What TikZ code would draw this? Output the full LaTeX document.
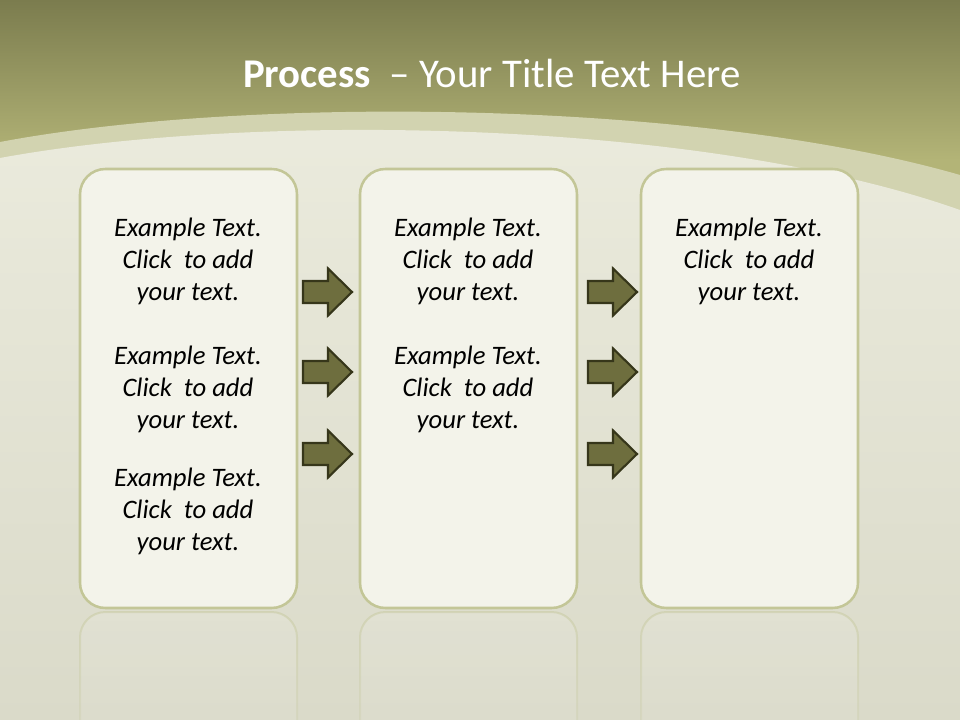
\documentclass[tikz,border=0pt]{standalone}
\usepackage{fontspec}
\setmainfont{Carlito}
\usetikzlibrary{fadings}
\definecolor{olivetop}{HTML}{7B7C4E}
\definecolor{olivemid}{HTML}{B3B477}
\definecolor{bandcol}{HTML}{D2D3B0}
\definecolor{paper}{HTML}{EBEBDD}
\definecolor{paperdark}{HTML}{DADAC9}
\definecolor{boxfill}{HTML}{F3F3EA}
\definecolor{boxline}{HTML}{C3C697}
\definecolor{arrowfill}{HTML}{6E6E3E}
\definecolor{arrowline}{HTML}{36361A}
\tikzset{
  procbox/.style={draw=boxline, line width=1.9pt, fill=boxfill, rounded corners=19pt,
    minimum width=162.75pt, minimum height=329.25pt, inner sep=0pt},
  reflbox/.style={draw=boxline, draw opacity=0.45, line width=1.5pt, fill=white, fill opacity=0.12, rounded corners=19pt},
  bodytext/.style={align=center, font=\fontsize{20}{24}\selectfont\itshape, text=black, inner sep=0pt},
  blkarrow/.pic={
    \path[fill=arrowfill, draw=arrowline, line width=1.6pt, line join=miter]
      (-24.5,-11) -- (0.5,-11) -- (0.5,-23.5) -- (24.5,0) -- (0.5,23.5) -- (0.5,11) -- (-24.5,11) -- cycle;
  }
}
\begin{document}
\begin{tikzpicture}[x=0.75pt,y=-0.75pt]
\useasboundingbox (0,0) rectangle (960,720);
% background
\shade[top color=olivetop, bottom color=olivemid] (0,0) rectangle (960,160);
\fill[olivemid] (0,160) rectangle (960,240);
\fill[bandcol] (0,142) .. controls (250,95) and (700,100) .. (960,175) -- (960,720) -- (0,720) -- cycle;
\shade[top color=paper, bottom color=paperdark] (0,158) .. controls (250,112) and (700,118) .. (960,210) -- (960,720) -- (0,720) -- cycle;
% reflections
\path[reflbox, path fading=south] (80,612) rectangle (297,820);
\path[reflbox, path fading=south] (360,612) rectangle (577,820);
\path[reflbox, path fading=south] (641,612) rectangle (858,820);
% boxes
\node[procbox] (b1) at (188.5,388.5) {};
\node[procbox] (b2) at (468.5,388.5) {};
\node[procbox] (b3) at (749.5,388.5) {};
% texts
\node[bodytext] (t11) at (188,261) {Example Text.\\Click\ \ to add\\your text.};
\node[bodytext] (t12) at (188,389) {Example Text.\\Click\ \ to add\\your text.};
\node[bodytext] (t13) at (188,511) {Example Text.\\Click\ \ to add\\your text.};
\node[bodytext] (t21) at (468,261) {Example Text.\\Click\ \ to add\\your text.};
\node[bodytext] (t22) at (468,389) {Example Text.\\Click\ \ to add\\your text.};
\node[bodytext] (t31) at (749,261) {Example Text.\\Click\ \ to add\\your text.};
% arrows
\pic at (327.5,292) {blkarrow};
\pic at (327.5,372) {blkarrow};
\pic at (327.5,454) {blkarrow};
\pic at (612.5,292) {blkarrow};
\pic at (612.5,372) {blkarrow};
\pic at (612.5,454) {blkarrow};
% title
\node[anchor=base west, inner sep=0pt, text=white, font=\fontsize{30.6}{36}\selectfont] (title) at (243,88)
  {\textbf{Process}\ \ – Your Title Text Here};
\end{tikzpicture}
\end{document}
